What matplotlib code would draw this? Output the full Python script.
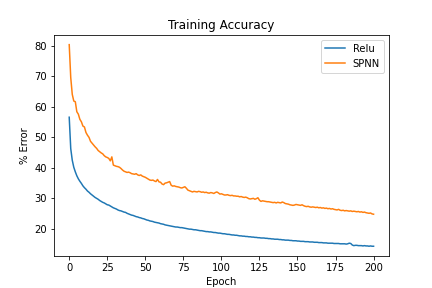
import numpy as np
import matplotlib
matplotlib.use('Agg')
import matplotlib.pyplot as plt

# % error per epoch
relu_err = [
    56.5, 46.2, 42.4, 40.1, 38.6, 37.3, 36.3, 35.5, 34.8, 34.0, 33.4,
    32.9, 32.3, 31.9, 31.4, 31.0, 30.6, 30.2, 29.9, 29.6, 29.2,
    28.9, 28.6, 28.4, 28.1, 27.8, 27.7, 27.4, 27.1, 26.8, 26.6,
    26.4, 26.1, 25.9, 25.8, 25.6, 25.4, 25.3, 25.0, 24.8, 24.6,
    24.4, 24.3, 24.1, 23.9, 23.8, 23.6, 23.5, 23.3, 23.2, 23.0,
    22.8, 22.7, 22.5, 22.4, 22.3, 22.1, 22.0, 21.9, 21.8, 21.6,
    21.5, 21.4, 21.2, 21.1, 21.0, 20.9, 20.8, 20.7, 20.6, 20.5,
    20.5, 20.4, 20.3, 20.3, 20.2, 20.1, 20.0, 19.9, 19.8, 19.8,
    19.7, 19.6, 19.6, 19.5, 19.4, 19.3, 19.3, 19.2, 19.1, 19.0,
    19.0, 18.9, 18.9, 18.8, 18.7, 18.7, 18.6, 18.5, 18.5, 18.4,
    18.3, 18.3, 18.2, 18.1, 18.1, 18.0, 17.9, 17.9, 17.8, 17.8,
    17.7, 17.6, 17.6, 17.5, 17.5, 17.4, 17.4, 17.3, 17.3, 17.2,
    17.2, 17.1, 17.1, 17.0, 17.0, 16.9, 16.9, 16.9, 16.8, 16.8,
    16.7, 16.7, 16.6, 16.6, 16.5, 16.5, 16.5, 16.4, 16.4, 16.3,
    16.3, 16.2, 16.2, 16.2, 16.1, 16.1, 16.0, 16.0, 16.0, 15.9,
    15.9, 15.8, 15.8, 15.8, 15.7, 15.7, 15.7, 15.6, 15.6, 15.6,
    15.5, 15.5, 15.5, 15.4, 15.4, 15.4, 15.3, 15.3, 15.3, 15.2,
    15.2, 15.2, 15.2, 15.1, 15.1, 15.1, 15.1, 15.0, 15.0, 15.0,
    15.0, 14.9, 15.0, 15.2, 15.1, 14.6, 14.4, 14.5, 14.5, 14.4,
    14.4, 14.4, 14.3, 14.4, 14.3, 14.3, 14.2, 14.3, 14.2, 14.2,
]

spnn_err = [
    80.3, 69.5, 64.0, 61.8, 61.6, 58.3, 57.5, 55.8, 55.0, 53.6, 53.3,
    51.5, 50.6, 49.9, 48.6, 48.0, 47.4, 46.8, 46.3, 45.6, 45.2,
    44.8, 44.5, 43.9, 43.5, 43.3, 43.0, 42.2, 43.5, 40.8, 40.6,
    40.4, 40.3, 40.1, 39.7, 39.2, 38.8, 38.6, 38.4, 38.5, 38.3,
    38.0, 37.9, 37.8, 38.0, 37.6, 37.4, 37.6, 37.2, 37.0, 36.8,
    36.5, 36.2, 35.9, 35.8, 35.9, 35.6, 35.4, 36.1, 35.3, 35.2,
    34.6, 34.4, 34.9, 35.0, 35.2, 35.4, 34.2, 33.9, 34.0, 33.8,
    33.7, 33.6, 33.4, 33.3, 33.5, 33.7, 33.2, 32.6, 32.4, 32.2,
    32.0, 32.2, 32.1, 32.0, 32.2, 32.1, 31.9, 32.0, 31.8, 31.9,
    31.7, 31.6, 31.8, 31.7, 31.5, 31.8, 32.0, 31.7, 31.3, 31.4,
    31.2, 31.0, 31.0, 31.1, 30.9, 30.8, 30.9, 30.7, 30.7, 30.6,
    30.6, 30.4, 30.5, 30.3, 30.2, 30.3, 30.1, 29.8, 29.7, 29.8,
    29.9, 29.6, 29.8, 30.1, 29.3, 28.9, 29.1, 29.0, 28.9, 28.8,
    28.8, 28.7, 28.6, 28.5, 28.6, 28.4, 28.6, 28.5, 28.4, 28.7,
    28.5, 28.2, 28.1, 28.0, 27.8, 27.7, 27.6, 27.7, 27.9, 27.8,
    27.7, 27.6, 27.8, 27.5, 27.3, 27.2, 27.3, 27.1, 27.0, 27.1,
    27.0, 26.9, 27.0, 26.8, 26.9, 26.7, 26.8, 26.6, 26.7, 26.5,
    26.6, 26.4, 26.5, 26.3, 26.2, 26.1, 26.3, 26.0, 25.9, 26.0,
    25.8, 25.9, 25.8, 25.7, 25.8, 25.6, 25.7, 25.6, 25.5, 25.6,
    25.4, 25.5, 25.3, 25.4, 25.2, 25.1, 25.0, 25.1, 24.8, 24.7,
]

epochs = np.arange(len(relu_err))

fig, ax = plt.subplots(figsize=(6, 4), dpi=72)
ax.plot(epochs, relu_err, label='Relu')
ax.plot(epochs, spnn_err, label='SPNN')
ax.set_title('Training Accuracy')
ax.set_xlabel('Epoch')
ax.set_ylabel('% Error')
ax.legend(loc='upper right')

plt.savefig('out.png', dpi=72)
